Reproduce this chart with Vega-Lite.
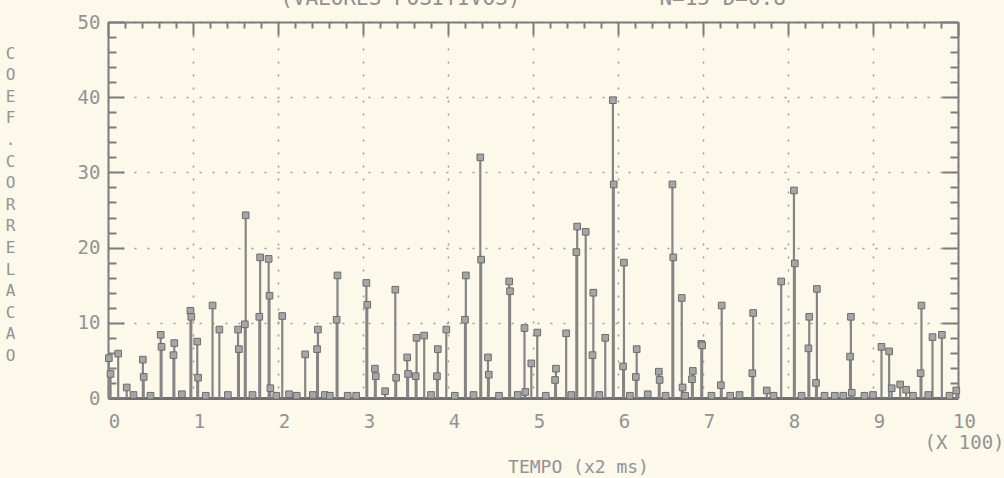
{
  "$schema": "https://vega.github.io/schema/vega-lite/v6.json",
  "width": 850,
  "height": 376,
  "autosize": {"type": "none"},
  "padding": {"left": 108, "top": 22, "right": 46, "bottom": 80},
  "background": "#fcf8ea",
  "title": {
    "text": "(VALORES POSITIVOS)\u00a0\u00a0\u00a0\u00a0\u00a0\u00a0\u00a0\u00a0\u00a0\u00a0\u00a0N=15 D=0.8",
    "anchor": "middle",
    "frame": "group",
    "baseline": "alphabetic",
    "offset": 4,
    "dy": 17,
    "font": "DejaVu Sans Mono",
    "fontSize": 21,
    "fontWeight": "normal",
    "color": "#909090"
  },
  "config": {
    "view": {"stroke": null},
    "axis": {
      "labelFont": "DejaVu Sans Mono",
      "labelFontSize": 19,
      "labelColor": "#939393",
      "titleFont": "DejaVu Sans Mono",
      "titleFontWeight": "normal",
      "titleColor": "#939393",
      "domainColor": "#7c7c7c",
      "domainWidth": 2,
      "tickColor": "#7c7c7c",
      "tickWidth": 2
    }
  },
  "data": {
    "values": [
      {"n": 1, "v": 5.3}, {"n": 3, "v": 3.2}, {"n": 12, "v": 5.9}, {"n": 22, "v": 1.4},
      {"n": 30, "v": 0.4}, {"n": 41, "v": 5.1}, {"n": 42, "v": 2.8}, {"n": 50, "v": 0.3},
      {"n": 62, "v": 8.4}, {"n": 63, "v": 6.8}, {"n": 77, "v": 5.7}, {"n": 78, "v": 7.3},
      {"n": 87, "v": 0.5}, {"n": 97, "v": 11.6}, {"n": 98, "v": 10.8}, {"n": 105, "v": 7.5},
      {"n": 106, "v": 2.7}, {"n": 115, "v": 0.3}, {"n": 123, "v": 12.3}, {"n": 131, "v": 9.1},
      {"n": 141, "v": 0.4}, {"n": 153, "v": 9.1}, {"n": 154, "v": 6.5}, {"n": 161, "v": 9.8},
      {"n": 162, "v": 24.3}, {"n": 170, "v": 0.4}, {"n": 178, "v": 10.8}, {"n": 179, "v": 18.7},
      {"n": 189, "v": 18.5}, {"n": 190, "v": 13.6}, {"n": 191, "v": 1.3}, {"n": 198, "v": 0.3},
      {"n": 205, "v": 10.9}, {"n": 213, "v": 0.5}, {"n": 222, "v": 0.3}, {"n": 232, "v": 5.8},
      {"n": 241, "v": 0.4}, {"n": 246, "v": 6.5}, {"n": 247, "v": 9.1}, {"n": 255, "v": 0.4},
      {"n": 261, "v": 0.3}, {"n": 269, "v": 10.4}, {"n": 270, "v": 16.3}, {"n": 282, "v": 0.3},
      {"n": 292, "v": 0.3}, {"n": 304, "v": 15.3}, {"n": 305, "v": 12.4}, {"n": 314, "v": 3.9},
      {"n": 315, "v": 2.9}, {"n": 326, "v": 0.9}, {"n": 338, "v": 14.4}, {"n": 339, "v": 2.7},
      {"n": 352, "v": 5.4}, {"n": 353, "v": 3.2}, {"n": 362, "v": 2.9}, {"n": 363, "v": 8.0},
      {"n": 372, "v": 8.3}, {"n": 380, "v": 0.4}, {"n": 387, "v": 2.9}, {"n": 388, "v": 6.5},
      {"n": 398, "v": 9.1}, {"n": 408, "v": 0.3}, {"n": 420, "v": 10.4}, {"n": 421, "v": 16.3},
      {"n": 430, "v": 0.4}, {"n": 438, "v": 32.0}, {"n": 439, "v": 18.4}, {"n": 447, "v": 5.4},
      {"n": 448, "v": 3.1}, {"n": 460, "v": 0.3}, {"n": 472, "v": 15.5}, {"n": 473, "v": 14.2},
      {"n": 482, "v": 0.4}, {"n": 490, "v": 9.3}, {"n": 491, "v": 0.8}, {"n": 498, "v": 4.6},
      {"n": 505, "v": 8.7}, {"n": 515, "v": 0.3}, {"n": 526, "v": 2.4}, {"n": 527, "v": 3.9},
      {"n": 539, "v": 8.6}, {"n": 545, "v": 0.4}, {"n": 551, "v": 19.4}, {"n": 552, "v": 22.8},
      {"n": 562, "v": 22.1}, {"n": 570, "v": 5.7}, {"n": 571, "v": 14.0}, {"n": 578, "v": 0.4},
      {"n": 585, "v": 8.0}, {"n": 594, "v": 39.6}, {"n": 595, "v": 28.4}, {"n": 606, "v": 4.2},
      {"n": 607, "v": 18.0}, {"n": 614, "v": 0.3}, {"n": 621, "v": 2.8}, {"n": 622, "v": 6.5},
      {"n": 635, "v": 0.5}, {"n": 648, "v": 3.5}, {"n": 649, "v": 2.4}, {"n": 656, "v": 0.3},
      {"n": 664, "v": 28.4}, {"n": 665, "v": 18.7}, {"n": 675, "v": 13.3}, {"n": 676, "v": 1.4},
      {"n": 679, "v": 0.3}, {"n": 687, "v": 2.5}, {"n": 688, "v": 3.6}, {"n": 698, "v": 7.2},
      {"n": 699, "v": 7.0}, {"n": 710, "v": 0.3}, {"n": 721, "v": 1.7}, {"n": 722, "v": 12.3},
      {"n": 732, "v": 0.3}, {"n": 743, "v": 0.4}, {"n": 758, "v": 3.3}, {"n": 759, "v": 11.3},
      {"n": 775, "v": 1.0}, {"n": 783, "v": 0.3}, {"n": 792, "v": 15.5}, {"n": 807, "v": 27.6},
      {"n": 808, "v": 17.9}, {"n": 816, "v": 0.3}, {"n": 824, "v": 6.6}, {"n": 825, "v": 10.8},
      {"n": 833, "v": 2.0}, {"n": 834, "v": 14.5}, {"n": 843, "v": 0.3}, {"n": 855, "v": 0.3},
      {"n": 865, "v": 0.3}, {"n": 873, "v": 5.5}, {"n": 874, "v": 10.8}, {"n": 875, "v": 0.7},
      {"n": 890, "v": 0.3}, {"n": 900, "v": 0.4}, {"n": 910, "v": 6.8}, {"n": 919, "v": 6.2},
      {"n": 922, "v": 1.3}, {"n": 932, "v": 1.8}, {"n": 939, "v": 1.1}, {"n": 947, "v": 0.3},
      {"n": 956, "v": 3.3}, {"n": 957, "v": 12.3}, {"n": 965, "v": 0.4}, {"n": 970, "v": 8.1},
      {"n": 981, "v": 8.4}, {"n": 990, "v": 0.3}, {"n": 998, "v": 1.0}
    ]
  },
  "layer": [
    {
      "mark": {"type": "rule", "color": "#858585", "strokeWidth": 2.2},
      "encoding": {
        "x": {
          "field": "n",
          "type": "quantitative",
          "scale": {"domain": [0, 1000], "nice": false, "zero": false},
          "axis": {
            "orient": "bottom",
            "values": [0, 100, 200, 300, 400, 500, 600, 700, 800, 900, 1000],
            "labelExpr": "datum.value === 1000 ? ['10', '(X 100)'] : format(datum.value / 100, 'd')",
            "labelLineHeight": 21,
            "labelPadding": 14,
            "labelOffset": 6,
            "labelAlign": "center",
            "ticks": false,
            "grid": true,
            "gridDash": [2, 11],
            "gridColor": "#9a9a9a",
            "gridWidth": 1.5,
            "domainWidth": 3,
            "domainColor": "#707070",
            "title": "TEMPO (x2 ms)",
            "titleFontSize": 18,
            "titleX": 470,
            "titleY": 74,
            "titleAlign": "center",
            "titleBaseline": "alphabetic"
          }
        },
        "y": {
          "field": "v",
          "type": "quantitative",
          "scale": {"domain": [0, 50], "nice": false},
          "axis": {
            "orient": "left",
            "values": [0, 2, 4, 6, 8, 10, 12, 14, 16, 18, 20, 22, 24, 26, 28, 30, 32, 34, 36, 38, 40, 42, 44, 46, 48, 50],
            "labelExpr": "datum.value % 10 === 0 ? datum.label : ''",
            "labelPadding": 24,
            "labelBaseline": "middle",
            "tickSize": {"condition": {"test": "datum.value % 10 === 0", "value": -16}, "value": -8},
            "grid": true,
            "gridDash": [2, 11],
            "gridColor": "#9a9a9a",
            "gridWidth": 1.5,
            "gridOpacity": {"condition": {"test": "datum.value % 10 === 0", "value": 1}, "value": 0},
            "title": ["C", "O", "E", "F", "", ".", "", "", "C", "O", "R", "R", "E", "L", "A", "C", "A", "O"],
            "titleAngle": 0,
            "titleFontSize": 16,
            "titleLineHeight": 21.6,
            "titleAlign": "center",
            "titleBaseline": "top",
            "titleX": -98,
            "titleY": 23
          }
        },
        "y2": {"datum": 0}
      }
    },
    {
      "mark": {
        "type": "point",
        "shape": "square",
        "filled": true,
        "size": 44,
        "color": "#a6a6a6",
        "stroke": "#6c6c6c",
        "strokeWidth": 1,
        "opacity": 1
      },
      "encoding": {
        "x": {
          "field": "n",
          "type": "quantitative",
          "axis": {
            "orient": "top",
            "values": [0, 20, 40, 60, 80, 100, 120, 140, 160, 180, 200, 220, 240, 260, 280, 300, 320, 340, 360, 380, 400, 420, 440, 460, 480, 500, 520, 540, 560, 580, 600, 620, 640, 660, 680, 700, 720, 740, 760, 780, 800, 820, 840, 860, 880, 900, 920, 940, 960, 980, 1000],
            "labels": false,
            "grid": false,
            "title": null,
            "tickSize": {"condition": {"test": "datum.value % 100 === 0", "value": -13}, "value": -6}
          }
        },
        "y": {
          "field": "v",
          "type": "quantitative",
          "axis": {
            "orient": "right",
            "values": [0, 2, 4, 6, 8, 10, 12, 14, 16, 18, 20, 22, 24, 26, 28, 30, 32, 34, 36, 38, 40, 42, 44, 46, 48, 50],
            "labels": false,
            "grid": false,
            "title": null,
            "tickSize": {"condition": {"test": "datum.value % 10 === 0", "value": -16}, "value": -8}
          }
        }
      }
    }
  ],
  "resolve": {"axis": {"x": "independent", "y": "independent"}}
}
